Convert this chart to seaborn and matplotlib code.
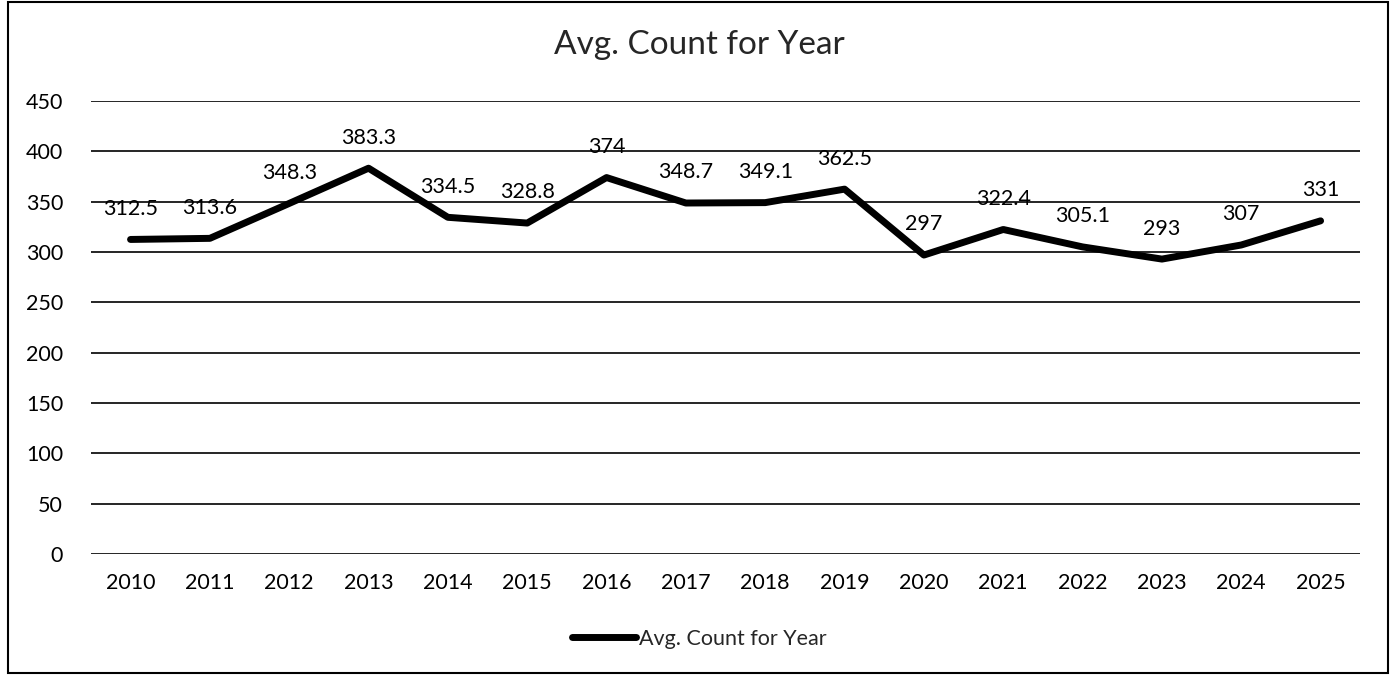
import pandas as pd
import matplotlib
matplotlib.use("Agg")
import matplotlib.pyplot as plt
import seaborn as sns

# 데이터
years = ["2010", "2011", "2012", "2013", "2014", "2015", "2016", "2017",
         "2018", "2019", "2020", "2021", "2022", "2023", "2024", "2025"]
avg_count = [312.5, 313.6, 348.3, 383.3, 334.5, 328.8, 374, 348.7,
             349.1, 362.5, 297, 322.4, 305.1, 293, 307, 331]
value_labels = ["312.5", "313.6", "348.3", "383.3", "334.5", "328.8", "374", "348.7",
                "349.1", "362.5", "297", "322.4", "305.1", "293", "307", "331"]
y_ticks = [0, 50, 100, 150, 200, 250, 300, 350, 400, 450]
series_name = "Avg. Count for Year"

df = pd.DataFrame({"year": years, "count": avg_count})

sns.set_style("white")
plt.rcParams['font.family'] = ['Lato', 'DejaVu Sans']

fs = 15.5

fig = plt.figure(figsize=(13.98, 6.76), dpi=100)
ax = fig.add_axes([0.065, 0.1805, 0.908, 0.670])

sns.lineplot(data=df, x="year", y="count", ax=ax, color="black",
             linewidth=5, label=series_name, solid_joinstyle="round",
             solid_capstyle="round")

# 값 라벨 (점 위)
for i, (v, t) in enumerate(zip(avg_count, value_labels)):
    ax.annotate(t, (i, v), xytext=(0, 22), textcoords="offset points",
                ha="center", va="center", fontsize=fs, color="black")

ax.set_ylim(0, 450)
ax.set_xlim(-0.5, len(years) - 0.5)
ax.set_yticks(y_ticks)
ax.set_yticklabels([str(t) for t in y_ticks])
ax.grid(axis="y", color="black", linewidth=1.2)
ax.grid(axis="x", visible=False)
ax.set_axisbelow(True)
for s in ax.spines.values():
    s.set_visible(False)
ax.tick_params(axis="both", length=0, labelsize=fs, colors="black")
ax.tick_params(axis="y", pad=20)
ax.tick_params(axis="x", pad=14)
ax.set_xlabel("")
ax.set_ylabel("")

fig.suptitle(series_name, y=1 - 45 / 676, va="center", fontsize=24)

ax.get_legend().remove()
h, l = ax.get_legend_handles_labels()
fig.legend(h, l, loc="center", bbox_to_anchor=(0.5, 1 - 639 / 676),
           frameon=False, fontsize=fs, handlelength=3.0, handletextpad=0.1)

# 바깥 테두리
fig.patches.append(plt.Rectangle((0.006, 0.004), 0.987, 0.993, transform=fig.transFigure,
                                 fill=False, edgecolor="black", linewidth=1.5))

fig.savefig("out.png", dpi=100)
